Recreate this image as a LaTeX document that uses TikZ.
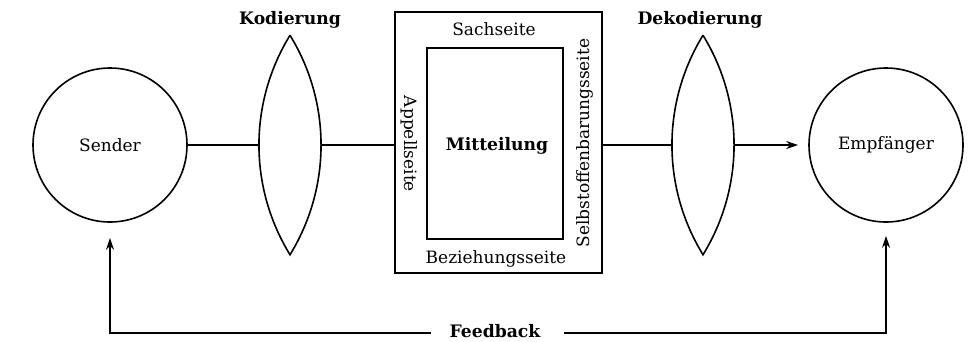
\documentclass[tikz,border=0pt]{standalone}
\usepackage{fontspec}
\setmainfont{DejaVu Serif}
\usetikzlibrary{arrows.meta}
\begin{document}
\begin{tikzpicture}[x=1pt,y=-1pt,
  line width=1.5pt,
  party/.style={circle,draw,line width=1.6pt,minimum size=154pt,inner sep=0pt,
    font=\fontsize{17}{21}\selectfont},
  lensbox/.style={minimum width=62pt,minimum height=218pt,inner sep=0pt},
  lens/.style={line width=1.6pt,line join=miter},
  lbl/.style={font=\fontsize{17}{21}\selectfont,inner sep=0pt},
  blbl/.style={font=\bfseries\fontsize{17.2}{21}\selectfont,inner sep=0pt},
  flow/.style={-{Stealth[length=12pt,width=8pt]}},
  side/.style={draw,line width=1.8pt,inner sep=0pt},
]
\useasboundingbox (0,0) rectangle (974,341);

% sender and receiver
\node[party] (sender) at (110,145) {Sender};
\node[party] (empf) at (886,145) {Empfänger};

% encoding / decoding lenses (two circular-like arcs meeting in points)
\node[lensbox] (kod) at (290,145) {};
\node[lensbox] (dek) at (703,145) {};
\foreach \l in {kod,dek}{
  \draw[lens] (\l.north)
    .. controls ([xshift=-41.4pt,yshift=42.2pt]\l.center) and ([xshift=-41.4pt,yshift=-42.2pt]\l.center) .. (\l.south)
    .. controls ([xshift=41.4pt,yshift=-42.2pt]\l.center) and ([xshift=41.4pt,yshift=42.2pt]\l.center) .. (\l.north);
}
\node[blbl] (kodlbl) at (290,20) {Kodierung};
\node[blbl] (deklbl) at (700,20) {Dekodierung};

% the message with its four sides
\node[side,minimum width=207pt,minimum height=261pt] (msg) at (498.5,142.5) {};
\node[side,line width=2pt,minimum width=136pt,minimum height=191pt] (inner) at (495,143.5) {};
\node[blbl,anchor=base] (mitt) at (497,150) {Mitteilung};
\node[lbl,anchor=base] (sach) at (494,35) {Sachseite};
\node[lbl,anchor=base] (bez) at (496,263) {Beziehungsseite};
\node[lbl,rotate=-90] (appell) at (409,144) {Appellseite};
\node[lbl,rotate=90] (selbst) at (585,143) {Selbstoffenbarungsseite};

% transmission path
\draw (sender.east) -- (kod.west);
\draw (kod.east) -- (kod.east -| msg.west);
\draw (dek.west -| msg.east) -- (dek.west);
\draw[flow] (dek.east) -- ([xshift=-10pt]empf.west);

% feedback loop
\node[blbl] (fb) at (495,331) {Feedback};
\coordinate (fbl) at (495,333);
\draw[flow,line width=1.3pt] ([xshift=-18pt]fb.west |- fbl) -| ([yshift=-15pt]sender.south);
\draw[flow,line width=1.3pt] ([xshift=23pt]fb.east |- fbl) -| ([yshift=-13pt]empf.south);
\end{tikzpicture}
\end{document}
